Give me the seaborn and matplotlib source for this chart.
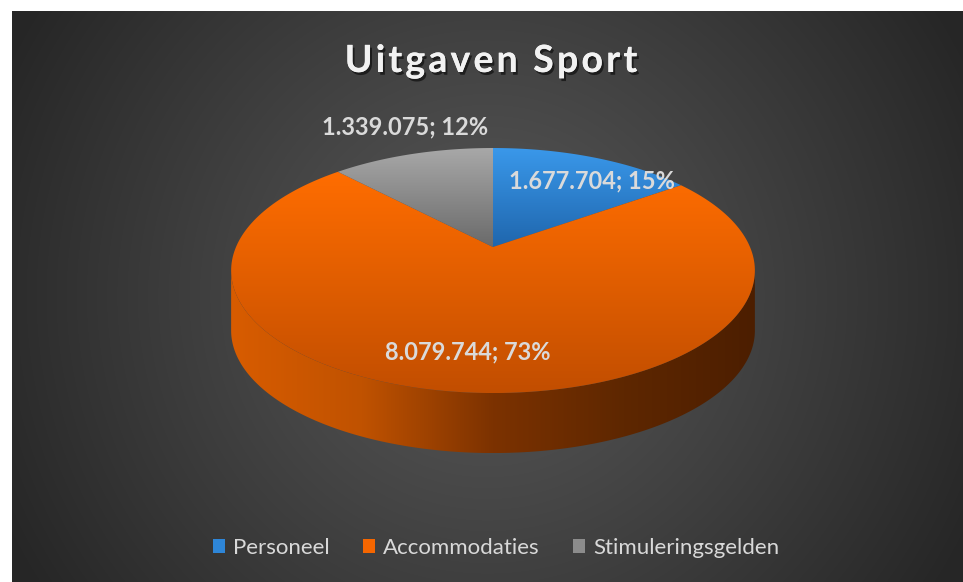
import numpy as np
import seaborn as sns
import matplotlib.pyplot as plt
from matplotlib.patches import Polygon, Patch
from matplotlib.colors import LinearSegmentedColormap
import matplotlib.patheffects as pe

# data
categories = ["Personeel", "Accommodaties", "Stimuleringsgelden"]
values = [1677704, 8079744, 1339075]
top_colors = [("#3a98ea", "#1f66ad"), ("#ff6d00", "#c24e00"), ("#a8a8a8", "#6a6a6a")]
legend_colors = ["#2e86d8", "#f56600", "#8c8c8c"]
label_pos = [(592, 181), (468, 352), (405, 127)]
title = "Uitgaven Sport"

sns.set_theme(style="white")
plt.rcParams['font.family'] = ['Lato', 'DejaVu Sans']

W, H = 963, 582
fig = plt.figure(figsize=(W / 100, H / 100), dpi=100, facecolor="white")
ax = fig.add_axes([0, 0, 1, 1])
ax.set_axis_off()
ax.set_xlim(0, W)
ax.set_ylim(H, 0)

# radial background of the chart area
x0, y0 = 12, 11
xx, yy = np.meshgrid(np.arange(x0, W), np.arange(y0, H))
r = np.sqrt(((xx - 487) / 540.0) ** 2 + ((yy - 296) / 540.0) ** 2)
g = (0x58 - (0x58 - 0x26) * np.clip(r, 0, 1) ** 1.1) / 255.0
bg = np.dstack([g, g, g])
ax.imshow(bg, extent=(x0, W, H, y0), aspect="auto", zorder=0, interpolation="bilinear")

# 3d pie geometry (simple perspective)
cx, cy, a, b, k, depth = 493, 247, 257, 118, 0.192, 60


def rim(t, drop=0):
    u, v = np.cos(t), np.sin(t)
    s = 1 + k * v
    return cx + a * u / s, cy - b * v / s + drop


def fill_gradient(poly_xy, colors, horizontal=False, z=2):
    poly = Polygon(poly_xy, closed=True, facecolor="none", edgecolor="none", zorder=z)
    ax.add_patch(poly)
    xs, ys = poly_xy[:, 0], poly_xy[:, 1]
    cmap = LinearSegmentedColormap.from_list("g", list(colors))
    grad = np.linspace(0, 1, 256)
    arr = grad[None, :] if horizontal else grad[:, None]
    im = ax.imshow(arr, cmap=cmap, extent=(xs.min(), xs.max(), ys.max(), ys.min()),
                   aspect="auto", zorder=z, interpolation="bilinear")
    im.set_clip_path(poly)


# side of the pie (front part, all orange)
tl = np.pi + np.arcsin(k)
tr = 2 * np.pi - np.arcsin(k)
ts = np.linspace(tl, tr, 300)
sx, sy = rim(ts)
bx, by = rim(ts[::-1], depth)
side = np.column_stack([np.concatenate([sx, bx]), np.concatenate([sy, by])])
fill_gradient(side, ["#d85c00", "#c05200", "#7c3200", "#5e2700", "#4c1e00"], horizontal=True, z=2)

# top face slices
total = sum(values)
fracs = np.array(values) / total
start = np.pi / 2
for i, f in enumerate(fracs):
    end = start - 2 * np.pi * f
    t = np.linspace(start, end, 200)
    px, py = rim(t)
    xy = np.column_stack([np.r_[cx, px], np.r_[cy, py]])
    fill_gradient(xy, top_colors[i], z=3)
    start = end

# data labels
for i, v in enumerate(values):
    txt = f"{v:,}".replace(",", ".") + f"; {round(100 * v / total)}%"
    ax.text(label_pos[i][0], label_pos[i][1], txt, ha="center", va="center",
            fontsize=17, fontweight="bold", color="#dadada", zorder=5)

# title with letter spacing
renderer = fig.canvas.get_renderer()
tkw = dict(fontsize=27, fontweight="bold")


def text_w(s):
    t = ax.text(0, 0, s + "l", **tkw)
    w = t.get_window_extent(renderer).width
    t.remove()
    return w - lw


t_l = ax.text(0, 0, "l", **tkw)
lw = t_l.get_window_extent(renderer).width
t_l.remove()
spacing = 3.2
offsets = [text_w(title[:i]) + i * spacing for i in range(len(title))]
full = text_w(title) + (len(title) - 1) * spacing
tx = 491 - full / 2
shadow = [pe.withSimplePatchShadow(offset=(1.5, -2), shadow_rgbFace="black", alpha=0.55), pe.Normal()]
for i, ch in enumerate(title):
    if ch == " ":
        continue
    ax.text(tx + offsets[i], 72, ch, ha="left", va="baseline", color="#f2f2f2", zorder=5,
            path_effects=shadow, **tkw)

handles = [Patch(facecolor=c, edgecolor="none") for c in legend_colors]
ax.legend(handles, categories, loc="center", bbox_to_anchor=(496 / W, 1 - 548 / H), ncol=3,
          frameon=False, labelcolor="#d9d9d9", fontsize=16, handlelength=0.55, handleheight=0.55,
          handletextpad=0.35, columnspacing=1.5)

plt.savefig("out.png", dpi=100, facecolor="white")
